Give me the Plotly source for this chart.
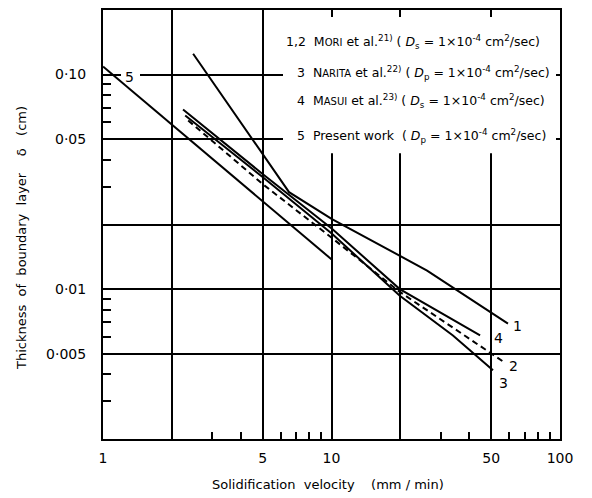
import plotly.graph_objects as go

# ---- data ----
c1_x = [2.48, 6.52, 10.05, 15.8, 26.2, 59.2]
c1_y = [0.125, 0.0283, 0.0212, 0.0164, 0.0122, 0.0069]

c2_x = [2.36, 5.01, 10.05, 19.9, 56.3]
c2_y = [0.0611, 0.0308, 0.0173, 0.0097, 0.0046]

c3_x = [2.29, 5.01, 10.05, 19.9, 34.0, 50.9]
c3_y = [0.0644, 0.0332, 0.0181, 0.0093, 0.00608, 0.00418]

c4_x = [2.24, 5.01, 10.05, 19.9, 44.7]
c4_y = [0.0687, 0.0343, 0.0191, 0.0100, 0.00608]

c5_x = [1.0, 10.05]
c5_y = [0.109, 0.0137]

x_tickvals = [1, 2, 5, 10, 20, 50, 100]
x_ticktext = ["1", "", "5", "10", "", "50", "100"]
x_minor = [3, 4, 6, 7, 8, 9, 30, 40, 60, 70, 80, 90]

y_tickvals = [0.005, 0.01, 0.02, 0.05, 0.1]
y_ticktext = ["0·005", "0·01", "", "0·05", "0·10"]
y_minor = [0.003, 0.004, 0.006, 0.007, 0.008, 0.009, 0.03, 0.04, 0.06, 0.07, 0.08, 0.09]

legend_lines = [
    "1,2  M<span style='font-size:10px'>ORI</span> et al.<sup>21)</sup> ( <i>D</i><sub>s</sub> = 1×10<sup>-4</sup> cm<sup>2</sup>/sec)",
    "3  N<span style='font-size:10px'>ARITA</span> et al.<sup>22)</sup> ( <i>D</i><sub>p</sub> = 1×10<sup>-4</sup> cm<sup>2</sup>/sec)",
    "4  M<span style='font-size:10px'>ASUI</span> et al.<sup>23)</sup> ( <i>D</i><sub>s</sub> = 1×10<sup>-4</sup> cm<sup>2</sup>/sec)",
    "5  Present work  ( <i>D</i><sub>p</sub> = 1×10<sup>-4</sup> cm<sup>2</sup>/sec)",
]

FONT = "DejaVu Sans"
fig = go.Figure()
line_style = dict(color="black", width=2)
fig.add_trace(go.Scatter(x=c1_x, y=c1_y, mode="lines", line=line_style))
fig.add_trace(go.Scatter(x=c2_x, y=c2_y, mode="lines", line=dict(color="black", width=2, dash="6px,4px")))
fig.add_trace(go.Scatter(x=c3_x, y=c3_y, mode="lines", line=line_style))
fig.add_trace(go.Scatter(x=c4_x, y=c4_y, mode="lines", line=line_style))
fig.add_trace(go.Scatter(x=c5_x, y=c5_y, mode="lines", line=line_style))

W, H = 592, 498
L, R, T, B = 103, 32, 8, 59
pw, ph = W - L - R, H - T - B

def px(x):
    return (x - L) / pw

def py(y):
    return (H - B - y) / ph

fig.update_layout(
    width=W, height=H,
    margin=dict(l=L, r=R, t=T, b=B),
    paper_bgcolor="white", plot_bgcolor="white",
    showlegend=False,
    font=dict(family=FONT, color="black", size=13),
    xaxis=dict(
        type="log", range=[0, 2],
        tickmode="array", tickvals=x_tickvals, ticktext=x_ticktext,
        ticks="", showgrid=True, gridcolor="black", gridwidth=1.5,
        showline=True, linecolor="black", linewidth=2, mirror=True,
        zeroline=False, tickfont=dict(size=14, family=FONT),
        ticklabelstandoff=5,
        minor=dict(tickmode="array", tickvals=x_minor, ticks="inside",
                   ticklen=7, tickwidth=1.5, tickcolor="black", showgrid=False),
    ),
    yaxis=dict(
        type="log", range=[-2.69897, -0.69897],
        tickmode="array", tickvals=y_tickvals, ticktext=y_ticktext,
        ticks="", showgrid=True, gridcolor="black", gridwidth=1.5,
        showline=True, linecolor="black", linewidth=2, mirror=True,
        zeroline=False, tickfont=dict(size=14, family=FONT),
        ticklabelstandoff=12,
        minor=dict(tickmode="array", tickvals=y_minor, ticks="inside",
                   ticklen=8, tickwidth=1.5, tickcolor="black", showgrid=False),
    ),
)

# white area behind legend text (interrupts gridlines) and gap for label "5"
fig.add_shape(type="rect", xref="paper", yref="paper",
              x0=px(283), x1=px(556), y0=py(152), y1=py(15),
              fillcolor="white", line=dict(width=0), layer="above")
fig.add_shape(type="rect", xref="paper", yref="paper",
              x0=px(121), x1=px(140), y0=py(78), y1=py(70),
              fillcolor="white", line=dict(width=0), layer="above")

# legend text
legend_pos = [(284, 40), (295, 71), (295, 99), (295, 135)]
for txt, (lx, ly) in zip(legend_lines, legend_pos):
    fig.add_annotation(xref="paper", yref="paper", x=px(lx), y=py(ly),
                       xanchor="left", yanchor="middle", text=txt,
                       showarrow=False, font=dict(size=12.5, family=FONT))

# curve labels
for lab, (lx, ly) in zip(["1", "2", "3", "4", "5"],
                         [(517, 325), (513, 366), (503, 383), (498, 338), (129, 75)]):
    fig.add_annotation(xref="paper", yref="paper", x=px(lx), y=py(ly),
                       xanchor="center", yanchor="middle", text=lab,
                       showarrow=False, font=dict(size=14, family=FONT))

# axis titles
fig.add_annotation(xref="paper", yref="paper", x=px(22), y=py(237),
                   text="Thickness  of  boundary  layer    δ   (cm)", textangle=-90,
                   showarrow=False, xanchor="center", yanchor="middle",
                   font=dict(size=13, family=FONT))
fig.add_annotation(xref="paper", yref="paper", x=px(328), y=py(485),
                   text="Solidification  velocity    (mm / min)",
                   showarrow=False, xanchor="center", yanchor="middle",
                   font=dict(size=13, family=FONT))

fig.write_html("out.html")
